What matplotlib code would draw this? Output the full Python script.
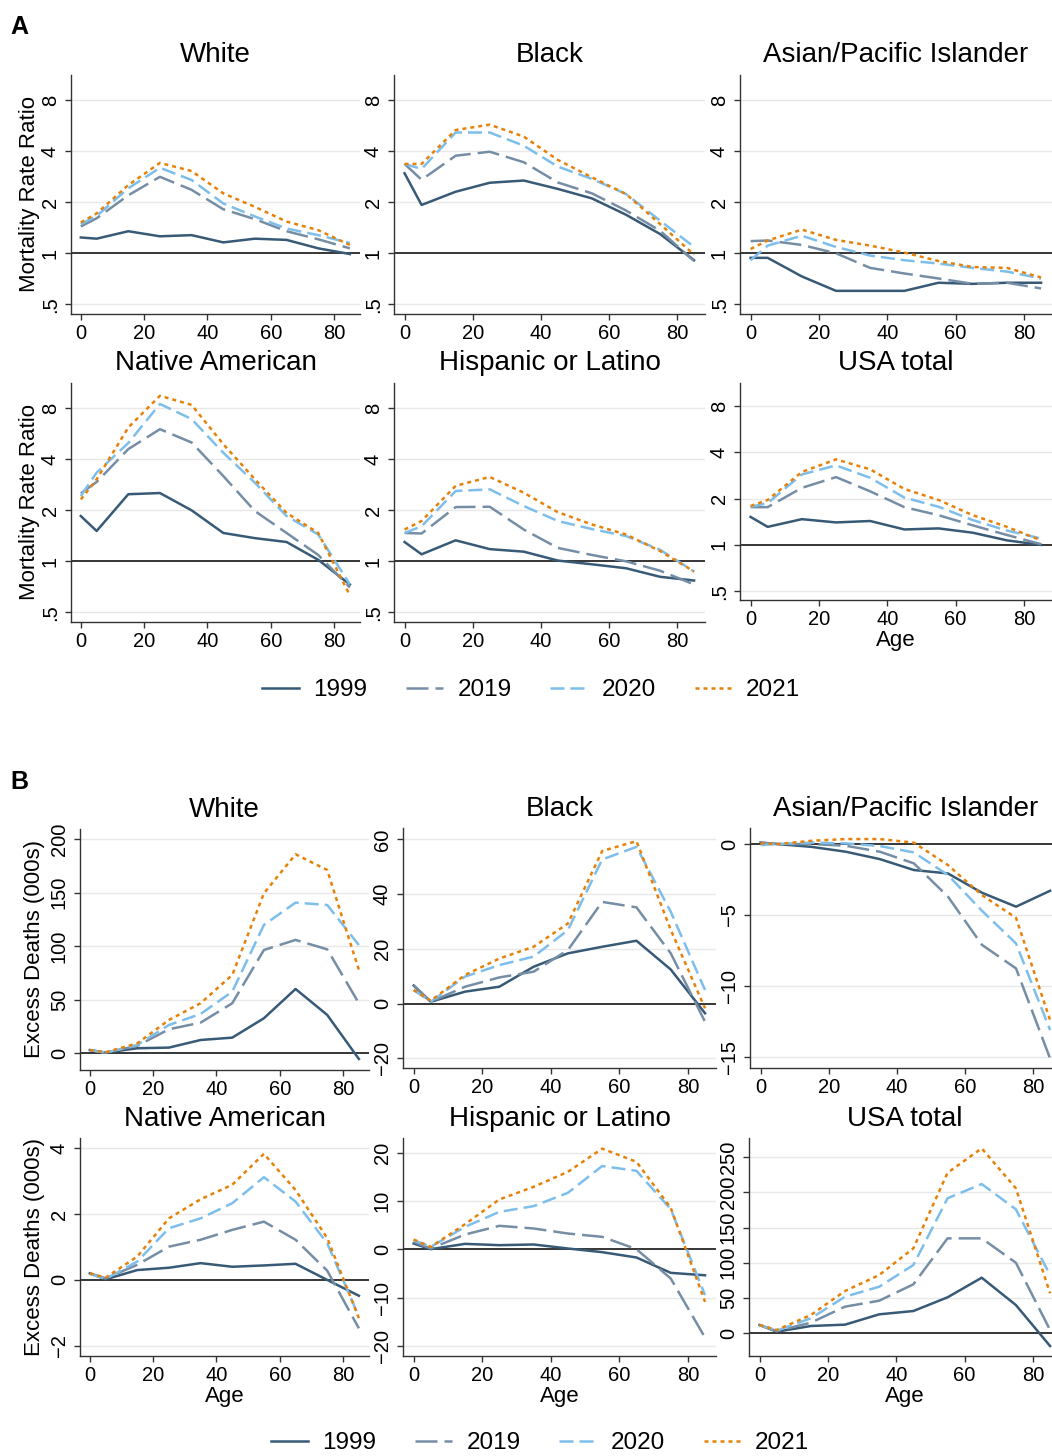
import numpy as np
import matplotlib
matplotlib.use('Agg')
import matplotlib.pyplot as plt
from matplotlib.lines import Line2D

plt.rcParams['font.family'] = ['Liberation Sans', 'DejaVu Sans']

# ages at which the values are given
ages = [0, 5, 15, 25, 35, 45, 55, 65, 75, 85]
years = ['1999', '2019', '2020', '2021']

# A: mortality rate ratio, one list per year (1999, 2019, 2020, 2021)
rr_white = [[1.24, 1.22, 1.35, 1.26, 1.28, 1.16, 1.22, 1.20, 1.07, 0.99],
            [1.44, 1.61, 2.20, 2.83, 2.37, 1.82, 1.59, 1.35, 1.21, 1.07],
            [1.49, 1.66, 2.42, 3.20, 2.71, 1.97, 1.65, 1.40, 1.28, 1.15],
            [1.52, 1.72, 2.53, 3.42, 3.06, 2.26, 1.88, 1.54, 1.37, 1.12]]
rr_black = [[2.97, 1.93, 2.31, 2.61, 2.69, 2.40, 2.11, 1.69, 1.30, 0.91],
            [3.37, 2.72, 3.77, 3.98, 3.45, 2.62, 2.26, 1.79, 1.36, 0.90],
            [3.37, 3.15, 5.17, 5.17, 4.32, 3.25, 2.75, 2.24, 1.56, 1.09],
            [3.37, 3.37, 5.35, 5.75, 4.89, 3.56, 2.81, 2.24, 1.49, 0.98]]
rr_asian = [[0.94, 0.94, 0.73, 0.60, 0.60, 0.60, 0.67, 0.66, 0.67, 0.67],
            [1.18, 1.19, 1.12, 1.00, 0.82, 0.76, 0.71, 0.66, 0.67, 0.62],
            [0.91, 1.11, 1.27, 1.09, 0.97, 0.91, 0.87, 0.82, 0.78, 0.71],
            [1.06, 1.19, 1.38, 1.20, 1.11, 1.01, 0.90, 0.83, 0.82, 0.72]]
rr_native = [[1.85, 1.51, 2.49, 2.53, 2.00, 1.47, 1.37, 1.30, 1.02, 0.73],
             [2.52, 2.94, 4.60, 6.03, 5.03, 3.19, 1.98, 1.47, 1.09, 0.70],
             [2.43, 3.34, 5.00, 8.50, 6.92, 4.38, 2.91, 1.85, 1.44, 0.73],
             [2.32, 3.05, 6.17, 9.50, 8.39, 4.92, 3.05, 1.93, 1.47, 0.63]]
rr_hisp = [[1.30, 1.10, 1.33, 1.18, 1.14, 1.01, 0.96, 0.91, 0.81, 0.77],
           [1.47, 1.46, 2.09, 2.10, 1.54, 1.20, 1.09, 1.00, 0.88, 0.73],
           [1.47, 1.61, 2.60, 2.66, 2.12, 1.73, 1.55, 1.41, 1.17, 0.87],
           [1.54, 1.73, 2.79, 3.15, 2.54, 1.95, 1.65, 1.44, 1.15, 0.87]]
rr_usa = [[1.52, 1.31, 1.47, 1.40, 1.43, 1.26, 1.28, 1.20, 1.07, 1.00],
          [1.76, 1.76, 2.35, 2.76, 2.23, 1.76, 1.56, 1.34, 1.16, 1.01],
          [1.77, 1.87, 2.87, 3.29, 2.73, 2.03, 1.77, 1.45, 1.24, 1.10],
          [1.79, 1.96, 2.98, 3.60, 3.10, 2.31, 1.96, 1.56, 1.31, 1.07]]

# B: excess deaths in thousands
ex_white = [[3, 0.6, 4.7, 5.3, 12.4, 14.6, 32.7, 60, 35.8, -5.3],
            [3, 0.6, 7, 22.4, 28.6, 46.7, 96.4, 105.8, 97, 46.7],
            [3, 0.6, 7.8, 26.4, 36.7, 57.5, 119.8, 140.6, 138.4, 101],
            [3, 1, 9.3, 31.1, 46.7, 73.1, 149.3, 185.7, 171, 77.8]]
ex_black = [[6.6, 0.7, 4.4, 6.2, 13.5, 18.4, 20.8, 23, 12.5, -3.5],
            [6.8, 0.7, 6.2, 9.6, 11.7, 19.6, 37.2, 35.2, 18.4, -6.6],
            [5, 0.7, 9.9, 14.1, 17.2, 26.9, 52.7, 57.3, 33.6, 5],
            [5, 1.1, 10.5, 16.5, 20.8, 29.3, 55.8, 59.4, 27, -1.7]]
ex_asian = [[0.1, 0, -0.2, -0.54, -1.06, -1.83, -2.07, -3.43, -4.41, -3.29],
            [0.1, 0, 0, -0.12, -0.54, -1.36, -3.7, -7.1, -8.76, -15.1],
            [-0.07, 0, 0.1, 0.05, -0.14, -0.59, -2.18, -4.7, -7.0, -13.1],
            [0.05, 0, 0.23, 0.35, 0.35, 0.1, -1.48, -3.6, -5.2, -12.4]]
ex_native = [[0.2, 0.02, 0.3, 0.37, 0.51, 0.4, 0.44, 0.49, 0, -0.48],
             [0.2, 0.05, 0.46, 1.01, 1.22, 1.52, 1.77, 1.22, 0.28, -1.47],
             [0.18, 0.03, 0.56, 1.57, 1.87, 2.33, 3.12, 2.38, 1.11, -1.11],
             [0.2, 0.07, 0.71, 1.87, 2.45, 2.89, 3.83, 2.73, 1.27, -1.16]]
ex_hisp = [[1.17, 0, 1.1, 0.83, 0.97, 0.14, -0.62, -1.72, -4.9, -5.4],
           [1.5, 0.14, 3.03, 4.83, 4.28, 3.24, 2.55, 0, -6.07, -18.3],
           [1.86, 0.48, 4.62, 7.72, 8.9, 11.66, 17.2, 16.2, 8.28, -9.5],
           [2.0, 0.48, 5.17, 10.28, 12.9, 16, 20.8, 18.07, 8.55, -10.9]]
ex_usa = [[11.4, 1.9, 10, 11.9, 26.6, 31.3, 50.8, 78.7, 39.8, -18.5],
          [11.4, 2.8, 14.7, 37.5, 46, 69.3, 134.7, 134.7, 100, 4.3],
          [11.4, 3.3, 20.9, 51.7, 65.9, 96.8, 191.7, 212, 176, 82.5],
          [11.4, 4.3, 25.6, 59.8, 82.5, 120.5, 228, 262.8, 205.9, 56.5]]

# line look for each year
colors = ['#385a76', '#768ea5', '#7dbeeb', '#e6820a']
styles = ['-', (0, (8.8, 2.8)), (0, (5.6, 2.4)), (0, (1.6, 1.6))]
LW = 1.8

W, H = 1052, 1456
fig = plt.figure(figsize=(W / 100, H / 100), dpi=100)
fig.patch.set_facecolor('white')


def panel(box, title, series, ylim, yticks, ylabels, ref, log=False,
          ylab=None, ylab_x=None, xlab=False):
    l, r, t, b = box
    ax = fig.add_axes([l / W, 1 - b / H, (r - l) / W, (b - t) / H])
    if log:
        ax.set_yscale('log')
    ax.set_ylim(ylim)
    ax.set_xlim(-3.1, 88.2)
    ax.set_yticks(yticks)
    ax.set_yticklabels(ylabels)
    ax.minorticks_off()
    ax.set_xticks([0, 20, 40, 60, 80])
    for v in yticks:
        if v != ref:
            ax.axhline(v, color='#e8e8e8', lw=1.0, zorder=1)
    ax.axhline(ref, color='black', lw=1.1, zorder=2)
    for i in range(4):
        ax.plot(ages, series[i], color=colors[i], ls=styles[i], lw=LW,
                zorder=3 + i)
    for s in ['top', 'right']:
        ax.spines[s].set_visible(False)
    for s in ['left', 'bottom']:
        ax.spines[s].set_color('#333333')
        ax.spines[s].set_linewidth(1.0)
    ax.tick_params(direction='out', length=4, width=1, color='#333333',
                   labelsize=14.5, pad=3)
    ax.tick_params(axis='y', labelrotation=90, pad=4)
    for lab in ax.get_yticklabels():
        lab.set_va('center')
    ax.set_title(title, fontsize=20, pad=9)
    if ylab:
        ax.set_ylabel(ylab, fontsize=16)
        ax.yaxis.set_label_coords((ylab_x - l) / (r - l), 0.5)
    if xlab:
        ax.set_xlabel('Age', fontsize=16, labelpad=1)
    return ax


# ---- panel A
lg = (0.438, 11.3)
tk = [0.5, 1, 2, 4, 8]
tl = ['.5', '1', '2', '4', '8']
yl = 'Mortality Rate Ratio'
panel((71, 360, 75, 314), 'White', rr_white, lg, tk, tl, 1, True, yl, 40)
panel((394, 705, 75, 314), 'Black', rr_black, lg, tk, tl, 1, True)
panel((740, 1052, 75, 314), 'Asian/Pacific Islander', rr_asian, lg, tk, tl, 1, True)
panel((71, 360, 383, 622), 'Native American', rr_native, lg, tk, tl, 1, True, yl, 40)
panel((394, 705, 383, 622), 'Hispanic or Latino', rr_hisp, lg, tk, tl, 1, True)
panel((740, 1052, 383, 600), 'USA total', rr_usa, lg, tk, tl, 1, True, xlab=True)

# ---- panel B
yb = 'Excess Deaths (000s)'
panel((80, 369, 829, 1070), 'White', ex_white, (-15.6, 209.3),
      [0, 50, 100, 150, 200], ['0', '50', '100', '150', '200'], 0, ylab=yb, ylab_x=45)
panel((403, 716, 828, 1068), 'Black', ex_black, (-23.5, 64.2),
      [-20, 0, 20, 40, 60], ['\u221220', '0', '20', '40', '60'], 0)
panel((750, 1061, 828, 1068), 'Asian/Pacific Islander', ex_asian, (-15.77, 1.13),
      [-15, -10, -5, 0], ['\u221215', '\u221210', '\u22125', '0'], 0)
panel((80, 369, 1138, 1356), 'Native American', ex_native, (-2.31, 4.31),
      [-2, 0, 2, 4], ['\u22122', '0', '2', '4'], 0, ylab=yb, ylab_x=45, xlab=True)
panel((403, 716, 1138, 1356), 'Hispanic or Latino', ex_hisp, (-22.1, 23.0),
      [-20, -10, 0, 10, 20], ['\u221220', '\u221210', '0', '10', '20'], 0, xlab=True)
panel((749, 1061, 1138, 1356), 'USA total', ex_usa, (-32.7, 277.5),
      [0, 50, 100, 150, 200, 250], ['0', '50', '100', '150', '200', '250'], 0, xlab=True)

# panel letters
fig.text(10 / W, 1 - 34 / H, 'A', fontsize=18, fontweight='bold', va='baseline')
fig.text(10 / W, 1 - 789 / H, 'B', fontsize=18, fontweight='bold', va='baseline')

# legends
handles = [Line2D([], [], color=colors[i], ls=styles[i], lw=LW) for i in range(4)]
for cy, cx in [(690, 531), (1443, 540)]:
    fig.legend(handles, years, loc='center', bbox_to_anchor=(cx / W, 1 - cy / H),
               ncol=4, frameon=False, fontsize=17.5, handlelength=1.5,
               handletextpad=0.6, columnspacing=1.6, borderpad=0.2)

fig.savefig('out.png', dpi=100)
